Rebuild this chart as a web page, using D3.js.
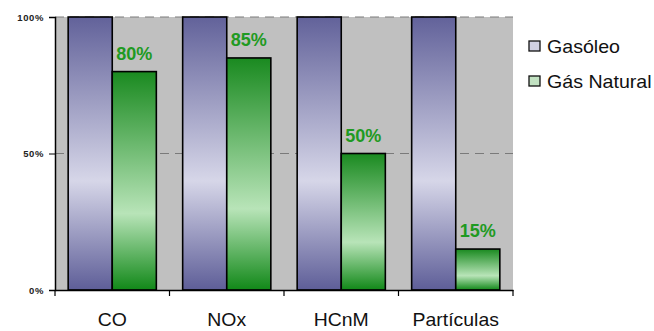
<!DOCTYPE html>
<html><head><meta charset="utf-8">
<script src="https://cdn.jsdelivr.net/npm/d3@7"></script>
<style>body{margin:0;background:#fff}svg{display:block}</style>
</head><body>
<svg id="c" width="654" height="331"></svg>
<script>
const categories = ["CO", "NOx", "HCnM", "Partículas"];
const seriesNames = ["Gasóleo", "Gás Natural"];
const gasoleo = [100, 100, 100, 100];
const gasNatural = [80, 85, 50, 15];
const yTicks = [0, 50, 100];

const FONT = "'Liberation Sans', Arial, sans-serif";
const svg = d3.select("#c");
const m = {l: 55, r: 513, t: 17, b: 290};
const x = d3.scaleBand().domain(categories).range([m.l, m.r]).paddingInner(0.23).paddingOuter(0.115);
const x1 = d3.scaleBand().domain(seriesNames).range([0, x.bandwidth()]);
const y = d3.scaleLinear().domain([0, 100]).range([m.b, m.t]);

const defs = svg.append("defs");
function grad(id, stops) {
  const g = defs.append("linearGradient").attr("id", id).attr("x1", 0).attr("y1", 0).attr("x2", 0).attr("y2", 1);
  stops.forEach(s => g.append("stop").attr("offset", s[0]).attr("stop-color", s[1]));
}
grad("gBlue", [[0, "#62629a"], [0.6, "#d6d6e8"], [1, "#5e5e98"]]);
grad("gGreen", [[0, "#1a8a20"], [0.65, "#b8e4b8"], [1, "#118818"]]);

svg.append("rect").attr("x", m.l).attr("y", m.t).attr("width", m.r - m.l).attr("height", m.b - m.t).attr("fill", "#c0c0c0");

svg.append("g").selectAll("line").data(yTicks.filter(d => d > 0)).join("line")
  .attr("x1", m.l).attr("x2", m.r).attr("y1", d => y(d)).attr("y2", d => y(d))
  .attr("stroke", "#7a7a7a").attr("stroke-width", 1).attr("stroke-dasharray", "9,6");

const data = categories.map((c, i) => ({c, vals: [gasoleo[i], gasNatural[i]]}));
const groups = svg.append("g").selectAll("g").data(data).join("g").attr("transform", d => `translate(${x(d.c)},0)`);
groups.selectAll("rect").data(d => d.vals.map((v, j) => ({v, s: seriesNames[j], j}))).join("rect")
  .attr("x", d => x1(d.s)).attr("width", x1.bandwidth())
  .attr("y", d => y(d.v)).attr("height", d => y(0) - y(d.v))
  .attr("fill", d => d.j === 0 ? "url(#gBlue)" : "url(#gGreen)")
  .attr("stroke", "#000").attr("stroke-width", 1.6);
groups.append("text")
  .attr("transform", d => `translate(${x1(seriesNames[1]) + x1.bandwidth() / 2},${y(d.vals[1]) - 12}) scale(0.95,1)`)
  .attr("text-anchor", "middle").attr("font-family", FONT)
  .attr("font-weight", "bold").attr("font-size", 19).attr("fill", "#1f9a22")
  .text(d => d.vals[1] + "%");

// axes
const yAxis = svg.append("g").attr("transform", `translate(${m.l},0)`)
  .call(d3.axisLeft(y).tickValues(yTicks).tickSize(6).tickPadding(5).tickFormat(d => d + "%"));
yAxis.select(".domain").attr("stroke", "#000").attr("stroke-width", 1.5);
yAxis.selectAll("line").attr("stroke", "#000");
yAxis.selectAll("text").attr("font-family", FONT).attr("font-size", 9.5).attr("font-weight", "bold")
  .attr("letter-spacing", 0.6).attr("fill", "#222");

const xAxis = svg.append("g").attr("transform", `translate(0,${m.b})`)
  .call(d3.axisBottom(x).tickSize(0).tickFormat(""));
xAxis.select(".domain").attr("stroke", "#000").attr("stroke-width", 1.5);
svg.append("g").selectAll("text").data(categories).join("text")
  .attr("transform", d => `translate(${x(d) + x.bandwidth() / 2},326) scale(1.08,1)`)
  .attr("text-anchor", "middle").attr("font-family", FONT).attr("font-size", 18).attr("fill", "#111")
  .text(d => d);
svg.append("g").selectAll("line").data(d3.range(categories.length + 1)).join("line")
  .attr("x1", i => m.l + i * (m.r - m.l) / categories.length).attr("x2", i => m.l + i * (m.r - m.l) / categories.length)
  .attr("y1", m.b).attr("y2", m.b + 6).attr("stroke", "#000").attr("stroke-width", 1.2);

// legend
const leg = svg.append("g").selectAll("g").data(seriesNames).join("g")
  .attr("transform", (d, i) => `translate(529,${41 + i * 35})`);
leg.append("rect").attr("width", 11).attr("height", 10)
  .attr("fill", (d, i) => i === 0 ? "#d0d0e2" : "#c2e2c2").attr("stroke", "#111").attr("stroke-width", 1.3);
leg.append("text").attr("transform", "translate(18,12) scale(1.09,1)").attr("font-family", FONT)
  .attr("font-size", 18).attr("fill", "#111").text(d => d);
</script>
</body></html>
